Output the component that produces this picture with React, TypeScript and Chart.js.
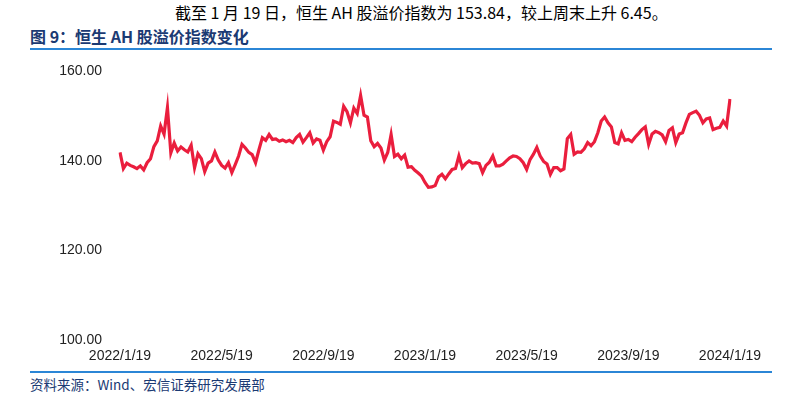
import React, { useEffect, useRef } from "react";
import { Chart, registerables } from "chart.js";

Chart.register(...registerables);

const headline = "截至 1 月 19 日，恒生 AH 股溢价指数为 153.84，较上周末上升 6.45。";
const chartTitle = "图 9：恒生 AH 股溢价指数变化";
const sourceText = "资料来源：Wind、宏信证券研究发展部";
const seriesName = "恒生AH股溢价指数";

const xTickLabels = ["2022/1/19", "2022/5/19", "2022/9/19", "2023/1/19", "2023/5/19", "2023/9/19", "2024/1/19"];
const yTicks = [100, 120, 140, 160];

const premiumIndex = [
  141.9, 138.3, 139.5, 139.0, 138.7, 138.3, 138.9, 138.0, 139.6, 140.5,
  143.2, 144.5, 147.8, 146.0, 151.9, 141.8, 144.0, 142.2, 143.1, 142.5,
  142.0, 143.5, 138.5, 141.6, 140.5, 137.6, 139.5, 140.0, 142.0, 140.2,
  139.0, 138.4, 139.6, 137.4, 139.2, 141.1, 143.7, 142.9, 141.9, 141.4,
  139.6, 142.5, 145.2, 144.6, 145.9, 144.8, 144.9, 144.4, 144.7, 144.3,
  144.6, 144.1, 145.2, 145.9, 144.2, 145.2, 146.3, 144.0, 144.9, 144.6,
  142.4, 144.3, 145.4, 148.9, 148.6, 148.2, 152.2, 151.0, 148.5, 151.8,
  150.6, 154.6, 150.2, 149.8, 144.5, 143.2, 143.9, 142.9, 140.2, 141.9,
  145.9, 141.0, 141.5, 140.5, 141.3, 138.6, 138.7, 137.9, 137.3, 136.6,
  135.2, 134.1, 134.2, 134.5, 136.4, 137.0, 136.0, 137.1, 138.1, 138.3,
  141.1, 138.5, 139.4, 140.0, 139.5, 139.6, 139.4, 137.4, 139.0, 139.7,
  141.1, 138.9, 138.9, 139.3, 140.0, 140.7, 141.1, 141.0, 140.5, 139.6,
  138.1, 140.3, 141.5, 143.0, 141.1, 139.9, 139.3, 137.0, 138.5, 138.5,
  137.8, 138.2, 145.0, 145.9, 141.5, 142.0, 141.9, 142.7, 144.1, 143.4,
  144.3, 146.3, 148.9, 149.8, 148.5, 147.6, 144.1, 143.8, 146.3, 144.6,
  144.8, 144.3, 145.3, 146.1, 147.0, 147.6, 143.7, 146.0, 146.6, 146.3,
  145.8, 144.3, 146.8, 147.4, 144.1, 146.0, 146.3, 148.5, 150.4, 150.8,
  151.1, 150.2, 148.5, 149.4, 149.6, 147.0, 147.3, 147.5, 148.9, 147.8,
  153.84,
];

const pointsPerLabel = (premiumIndex.length - 1) / (xTickLabels.length - 1);
const categories = premiumIndex.map((_, i) =>
  i % pointsPerLabel === 0 ? xTickLabels[i / pointsPerLabel] : ""
);

function ChartCanvas() {
  const ref = useRef<HTMLCanvasElement | null>(null);
  useEffect(() => {
    if (!ref.current) return;
    const chart = new Chart(ref.current, {
      type: "line",
      data: {
        labels: categories,
        datasets: [
          {
            label: seriesName,
            data: premiumIndex,
            borderColor: "#ea1e3d",
            borderWidth: 3.2,
            pointRadius: 0,
            tension: 0,
            fill: false,
          },
        ],
      },
      options: {
        responsive: false,
        animation: false,
        layout: { padding: { top: 7, right: 58, bottom: 0, left: 0 } },
        plugins: { legend: { display: false }, tooltip: { enabled: false } },
        scales: {
          x: {
            type: "category",
            offset: false,
            grid: { display: false, drawTicks: false },
            border: { display: false },
            ticks: {
              autoSkip: false,
              maxRotation: 0,
              minRotation: 0,
              padding: 8,
              color: "#222",
              font: { family: "Liberation Sans", size: 14 },
            },
            afterFit: (s: any) => {
              s.height = 30;
            },
          },
          y: {
            min: 100,
            max: 160,
            grid: { display: false, drawTicks: false },
            border: { display: false },
            afterBuildTicks: (s: any) => {
              s.ticks = yTicks.map((v) => ({ value: v }));
            },
            ticks: {
              padding: 18,
              color: "#222",
              font: { family: "Liberation Sans", size: 14 },
              callback: (v: any) => Number(v).toFixed(2),
            },
            afterFit: (s: any) => {
              s.width = 120;
            },
          },
        },
      },
    });
    return () => chart.destroy();
  }, []);
  return <canvas ref={ref} width={788} height={325} style={{ position: "absolute", left: 0, top: 45, width: 788, height: 325 }} />;
}

export default function App() {
  const cjk = '"Noto Sans CJK SC", "Noto Sans", sans-serif';
  return (
    <div style={{ position: "fixed", left: 0, top: 0, width: 788, height: 393, background: "#fff", overflow: "hidden" }}>
      <div style={{ position: "absolute", left: 175, top: 1, fontFamily: cjk, fontSize: 16, lineHeight: "22px", color: "#000", whiteSpace: "nowrap" }}>
        {headline}
      </div>
      <div style={{ position: "absolute", left: 30, top: 25, fontFamily: cjk, fontSize: 16, fontWeight: 700, lineHeight: "22px", color: "#1b3a73", whiteSpace: "nowrap" }}>
        {chartTitle}
      </div>
      <div style={{ position: "absolute", left: 30, top: 48, width: 742, height: 2, background: "#2b86d6" }} />
      <ChartCanvas />
      <div style={{ position: "absolute", left: 30, top: 371, width: 742, height: 2, background: "#2b86d6" }} />
      <div style={{ position: "absolute", left: 30, top: 375, fontFamily: cjk, fontSize: 13.5, lineHeight: "18px", color: "#1b3a73", whiteSpace: "nowrap" }}>
        {sourceText}
      </div>
    </div>
  );
}
